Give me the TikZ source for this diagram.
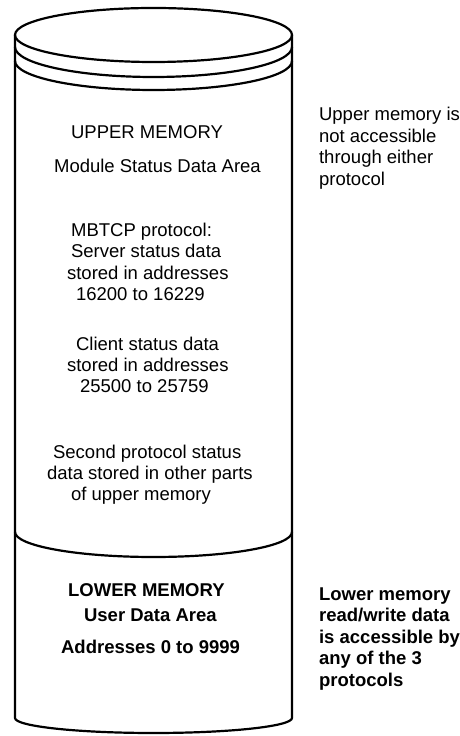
\documentclass[tikz,border=0pt]{standalone}
\usepackage{fontspec}
\setmainfont{Liberation Sans}
\begin{document}
\begin{tikzpicture}[x=1pt,y=1pt,line width=2.2pt,
    txt/.style={anchor=base west,inner sep=0pt,font=\fontsize{18.5}{21.5}\selectfont},
    btxt/.style={txt,font=\fontsize{18.5}{21.5}\selectfont\bfseries},
    note/.style={anchor=north west,inner sep=0pt,align=left,font=\fontsize{18.5}{21.5}\selectfont}]
  \useasboundingbox (0,0) rectangle (459,736);
  % cylinder
  \draw (153.5,701) ellipse [x radius=138.5, y radius=27];
  \draw (15,689) arc [start angle=180, end angle=360, x radius=138.5, y radius=30];
  \draw (15,675) arc [start angle=180, end angle=360, x radius=138.5, y radius=29];
  \draw (15,701) -- (15,18) arc [start angle=180, end angle=360, x radius=138.5, y radius=15] -- (292,701);
  \draw (15,204) arc [start angle=180, end angle=360, x radius=138.5, y radius=25];
  % upper memory
  \node[txt] (up)  at (70,597) {UPPER MEMORY};
  \node[txt] (msd) at (53,563) {Module Status Data Area};
  \node[txt] (mb1) at (70,499) {MBTCP protocol:};
  \node[txt] (mb2) at (70,478) {Server status data};
  \node[txt] (mb3) at (66,456) {stored in addresses};
  \node[txt] (mb4) at (75,435) {16200 to 16229};
  \node[txt] (cl1) at (75,385) {Client status data};
  \node[txt] (cl2) at (66,364) {stored in addresses};
  \node[txt] (cl3) at (79,343) {25500 to 25759};
  \node[txt] (sp1) at (52,277) {Second protocol status};
  \node[txt] (sp2) at (46,256) {data stored in other parts};
  \node[txt] (sp3) at (70,235) {of upper memory};
  % lower memory
  \node[btxt] (low) at (67,139) {LOWER MEMORY};
  \node[btxt] (uda) at (83,114) {User Data Area};
  \node[btxt] (adr) at (60,82) {Addresses 0 to 9999};
  % notes
  \node[note] (upnote) at (318,629.5) {Upper memory is\\not accessible\\through either\\protocol};
  \node[note,font=\fontsize{18.5}{21.5}\selectfont\bfseries] (lownote) at (318,149.5)
    {Lower memory\\read/write data\\is accessible by\\any of the 3\\protocols};
\end{tikzpicture}
\end{document}
